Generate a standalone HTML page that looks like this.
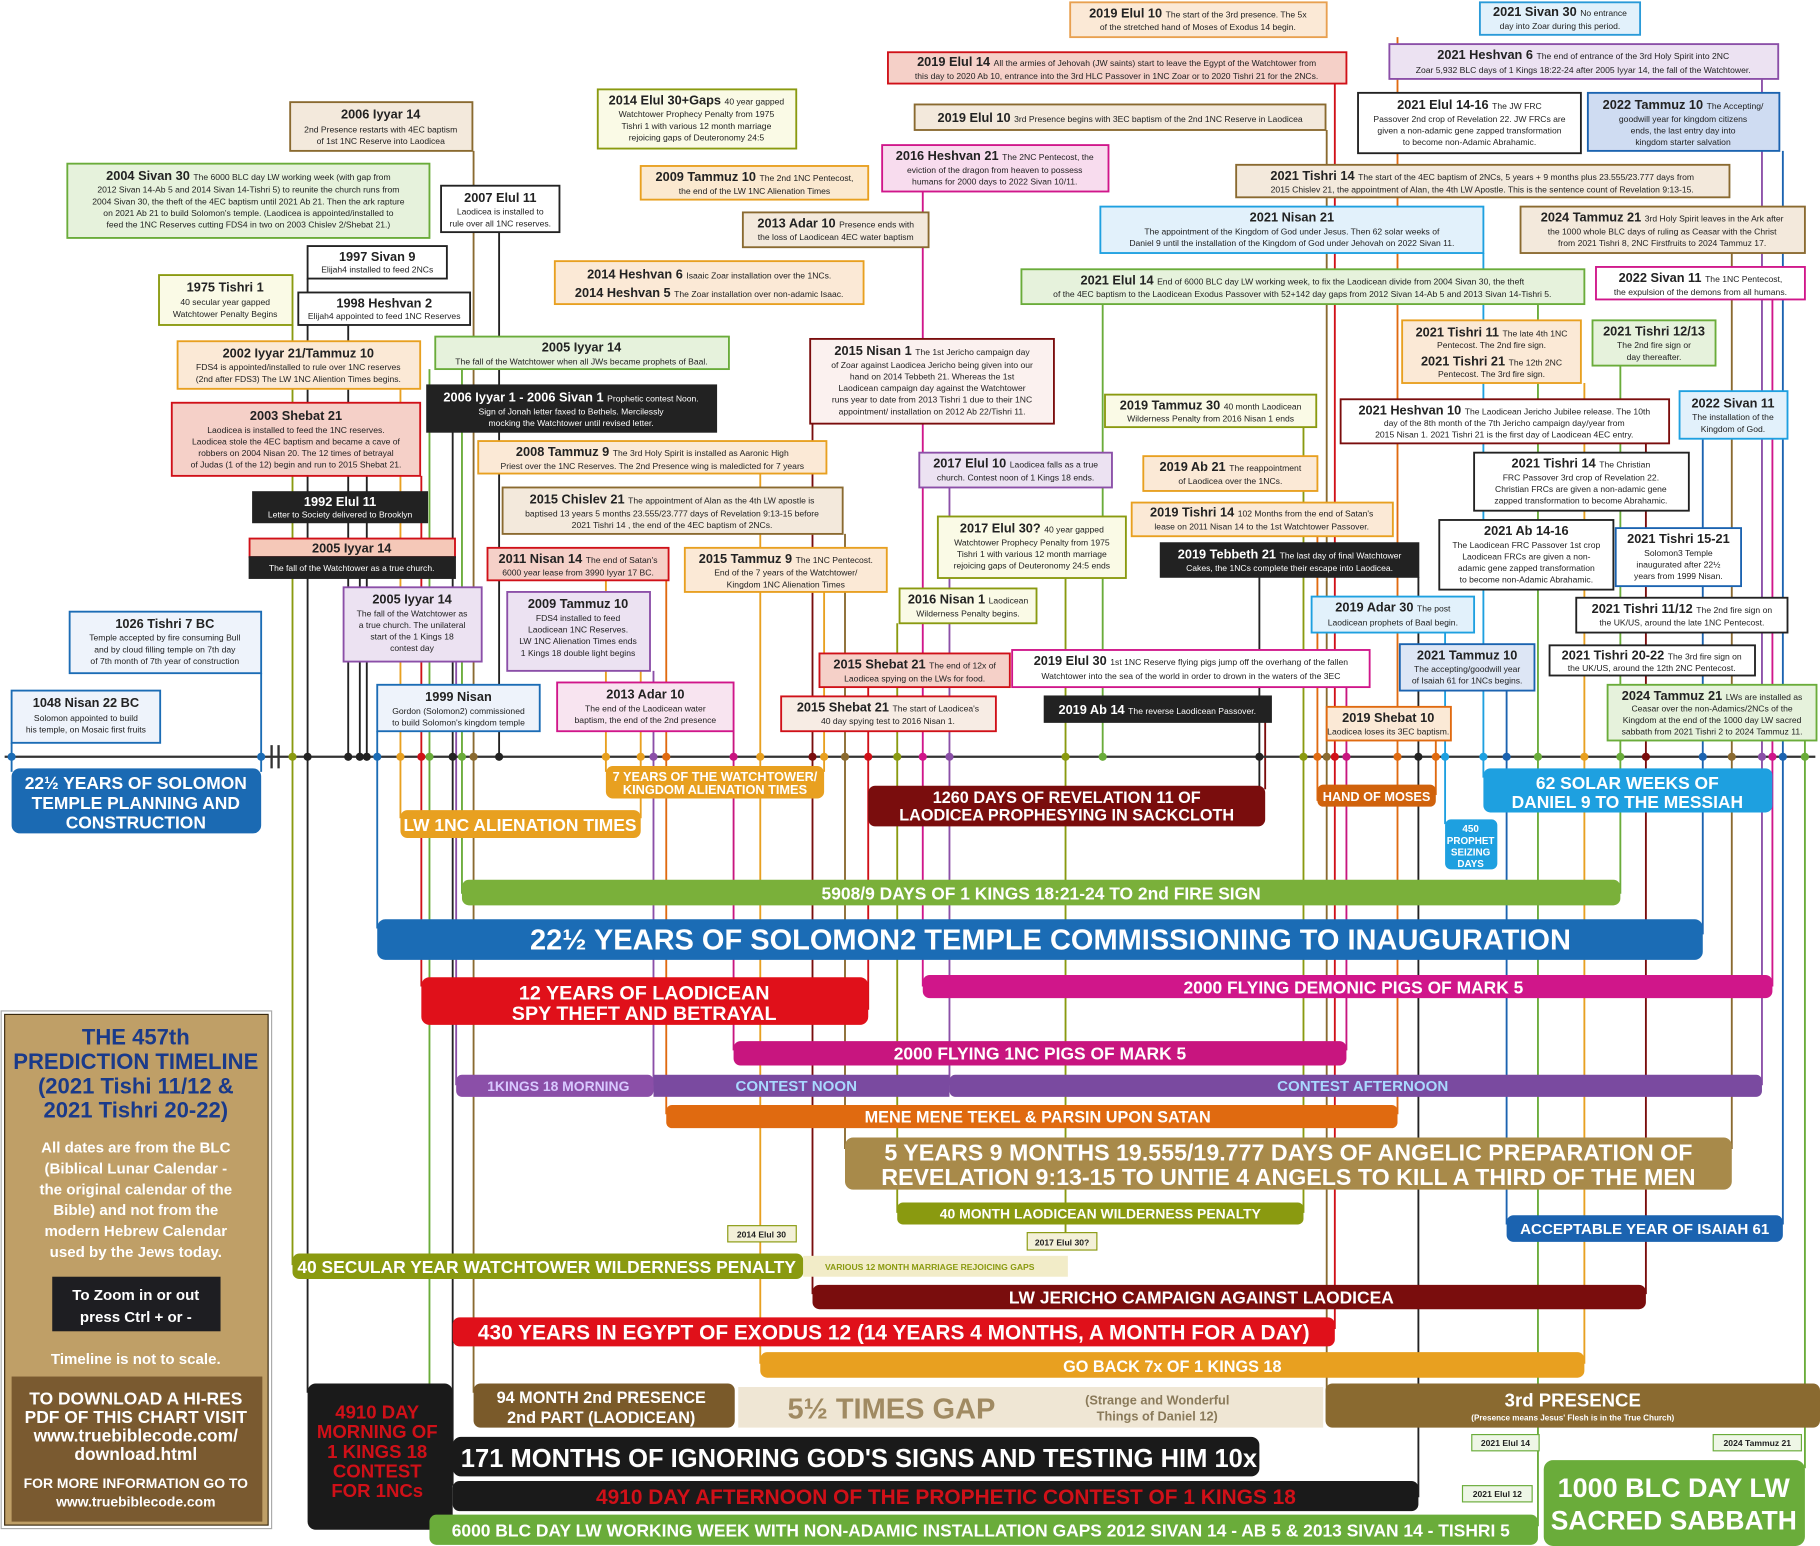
<!DOCTYPE html>
<html><head><meta charset="utf-8"><style>
html,body{margin:0;padding:0;background:#fff}
svg{display:block}
text{font-family:"Liberation Sans Narrow","Liberation Sans",sans-serif;text-anchor:middle;fill:#222}
.t{font-size:11px;font-weight:bold}
.s{font-size:7.4px;font-weight:normal}
.w{fill:#fff}
.b{font-weight:bold;fill:#fff;font-family:"Liberation Sans",sans-serif}
.box{stroke-width:1.6}
</style></head><body>
<svg width="1820" height="1546" viewBox="0 0 1568 1332" preserveAspectRatio="none" xmlns="http://www.w3.org/2000/svg">
<rect width="1568" height="1332" fill="#fff"/>
<g stroke-width="1.6" fill="none">
<line x1="252" y1="280" x2="252" y2="1090" stroke="#8a9a10"/>
<line x1="265" y1="240" x2="265" y2="1200" stroke="#222"/>
<line x1="300" y1="280" x2="300" y2="652" stroke="#222"/>
<line x1="310" y1="498" x2="310" y2="652" stroke="#222"/>
<line x1="316" y1="372" x2="316" y2="652" stroke="#222"/>
<line x1="325" y1="630" x2="325" y2="800" stroke="#1b6cb5"/>
<line x1="345" y1="335" x2="345" y2="705" stroke="#e8a020"/>
<line x1="363" y1="410" x2="363" y2="850" stroke="#d01018"/>
<line x1="370" y1="318" x2="370" y2="1312" stroke="#6aac3a"/>
<line x1="390" y1="372" x2="390" y2="1280" stroke="#222"/>
<line x1="393" y1="570" x2="393" y2="935" stroke="#8b4fa8"/>
<line x1="398" y1="318" x2="398" y2="770" stroke="#6aac3a"/>
<line x1="408" y1="130" x2="408" y2="1200" stroke="#8a6a30"/>
<line x1="430" y1="200" x2="430" y2="652" stroke="#222"/>
<line x1="522" y1="500" x2="522" y2="665" stroke="#e8a020"/>
<line x1="552" y1="578" x2="552" y2="705" stroke="#e8a020"/>
<line x1="563" y1="578" x2="563" y2="935" stroke="#8b4fa8"/>
<line x1="574" y1="500" x2="574" y2="960" stroke="#e06a10"/>
<line x1="632" y1="630" x2="632" y2="905" stroke="#c8157f"/>
<line x1="655" y1="408" x2="655" y2="1175" stroke="#e8a020"/>
<line x1="700" y1="365" x2="700" y2="1115" stroke="#7a0d0d"/>
<line x1="710" y1="510" x2="710" y2="665" stroke="#e8a020"/>
<line x1="728" y1="460" x2="728" y2="990" stroke="#8a6a30"/>
<line x1="748" y1="592" x2="748" y2="870" stroke="#d01018"/>
<line x1="773" y1="537" x2="773" y2="1045" stroke="#8a9a10"/>
<line x1="795" y1="165" x2="795" y2="850" stroke="#d0168a"/>
<line x1="818" y1="420" x2="818" y2="935" stroke="#8b4fa8"/>
<line x1="918" y1="498" x2="918" y2="1070" stroke="#8a9a10"/>
<line x1="950" y1="262" x2="950" y2="652" stroke="#6aac3a"/>
<line x1="1085" y1="497" x2="1085" y2="680" stroke="#222"/>
<line x1="1090" y1="622" x2="1090" y2="680" stroke="#7a0d0d"/>
<line x1="1123" y1="368" x2="1123" y2="1045" stroke="#8a9a10"/>
<line x1="1135" y1="462" x2="1135" y2="690" stroke="#e06a10"/>
<line x1="1143" y1="112" x2="1143" y2="1200" stroke="#8a6a30"/>
<line x1="1150" y1="72" x2="1150" y2="1145" stroke="#d01018"/>
<line x1="1160" y1="592" x2="1160" y2="905" stroke="#c8157f"/>
<line x1="1204" y1="32" x2="1204" y2="960" stroke="#e06a10"/>
<line x1="1222" y1="497" x2="1222" y2="1290" stroke="#222"/>
<line x1="1237" y1="638" x2="1237" y2="685" stroke="#e06a10"/>
<line x1="1245" y1="545" x2="1245" y2="710" stroke="#1ea0e0"/>
<line x1="1278" y1="218" x2="1278" y2="670" stroke="#1ea0e0"/>
<line x1="1298" y1="595" x2="1298" y2="1055" stroke="#1b63b0"/>
<line x1="1325" y1="262" x2="1325" y2="1315" stroke="#6aac3a"/>
<line x1="1365" y1="330" x2="1365" y2="1175" stroke="#e8a020"/>
<line x1="1396" y1="315" x2="1396" y2="770" stroke="#6aac3a"/>
<line x1="1418" y1="382" x2="1418" y2="1115" stroke="#7a0d0d"/>
<line x1="1467" y1="378" x2="1467" y2="805" stroke="#1b63b0"/>
<line x1="1492" y1="218" x2="1492" y2="990" stroke="#8a6a30"/>
<line x1="1518" y1="68" x2="1518" y2="935" stroke="#8b4fa8"/>
<line x1="1527" y1="258" x2="1527" y2="850" stroke="#d0168a"/>
<line x1="1536" y1="130" x2="1536" y2="1055" stroke="#1b63b0"/>
<line x1="1555" y1="638" x2="1555" y2="1265" stroke="#6aac3a"/>
<line x1="10" y1="640" x2="10" y2="665" stroke="#1b6cb5"/>
<line x1="225" y1="580" x2="225" y2="665" stroke="#1b6cb5"/>
</g>
<line x1="4" y1="652" x2="1564" y2="652" stroke="#333" stroke-width="2"/>
<line x1="234" y1="642" x2="234" y2="662" stroke="#333" stroke-width="2"/>
<line x1="240" y1="642" x2="240" y2="662" stroke="#333" stroke-width="2"/>
<g>
<circle cx="10" cy="652" r="3.5" fill="#1b6cb5"/><circle cx="225" cy="652" r="3.5" fill="#1b6cb5"/>
<circle cx="252" cy="652" r="3.5" fill="#8a9a10"/><circle cx="265" cy="652" r="3.5" fill="#222"/>
<circle cx="300" cy="652" r="3.5" fill="#222"/><circle cx="310" cy="652" r="3.5" fill="#222"/><circle cx="316" cy="652" r="3.5" fill="#222"/>
<circle cx="325" cy="652" r="3.5" fill="#1b6cb5"/><circle cx="345" cy="652" r="3.5" fill="#e8a020"/><circle cx="363" cy="652" r="3.5" fill="#d01018"/>
<circle cx="370" cy="652" r="3.5" fill="#6aac3a"/><circle cx="390" cy="652" r="3.5" fill="#222"/><circle cx="398" cy="652" r="3.5" fill="#6aac3a"/>
<circle cx="408" cy="652" r="3.5" fill="#8a6a30"/><circle cx="430" cy="652" r="3.5" fill="#222"/><circle cx="522" cy="652" r="3.5" fill="#e8a020"/>
<circle cx="552" cy="652" r="3.5" fill="#e8a020"/><circle cx="563" cy="652" r="3.5" fill="#8b4fa8"/><circle cx="574" cy="652" r="3.5" fill="#e06a10"/>
<circle cx="632" cy="652" r="3.5" fill="#c8157f"/><circle cx="655" cy="652" r="3.5" fill="#e8a020"/><circle cx="700" cy="652" r="3.5" fill="#7a0d0d"/>
<circle cx="710" cy="652" r="3.5" fill="#e8a020"/><circle cx="728" cy="652" r="3.5" fill="#8a6a30"/><circle cx="748" cy="652" r="3.5" fill="#d01018"/>
<circle cx="773" cy="652" r="3.5" fill="#8a9a10"/><circle cx="795" cy="652" r="3.5" fill="#d0168a"/><circle cx="818" cy="652" r="3.5" fill="#8b4fa8"/>
<circle cx="918" cy="652" r="3.5" fill="#8a9a10"/><circle cx="950" cy="652" r="3.5" fill="#6aac3a"/><circle cx="1085" cy="652" r="3.5" fill="#222"/>
<circle cx="1123" cy="652" r="3.5" fill="#8a9a10"/><circle cx="1135" cy="652" r="3.5" fill="#e06a10"/><circle cx="1143" cy="652" r="3.5" fill="#8a6a30"/>
<circle cx="1150" cy="652" r="3.5" fill="#d01018"/><circle cx="1160" cy="652" r="3.5" fill="#c8157f"/><circle cx="1204" cy="652" r="3.5" fill="#e06a10"/>
<circle cx="1222" cy="652" r="3.5" fill="#222"/><circle cx="1237" cy="652" r="3.5" fill="#e06a10"/><circle cx="1245" cy="652" r="3.5" fill="#1ea0e0"/>
<circle cx="1278" cy="652" r="3.5" fill="#1ea0e0"/><circle cx="1298" cy="652" r="3.5" fill="#1b63b0"/><circle cx="1325" cy="652" r="3.5" fill="#6aac3a"/>
<circle cx="1365" cy="652" r="3.5" fill="#e8a020"/><circle cx="1396" cy="652" r="3.5" fill="#6aac3a"/><circle cx="1418" cy="652" r="3.5" fill="#7a0d0d"/>
<circle cx="1467" cy="652" r="3.5" fill="#1b63b0"/><circle cx="1492" cy="652" r="3.5" fill="#8a6a30"/><circle cx="1518" cy="652" r="3.5" fill="#8b4fa8"/>
<circle cx="1527" cy="652" r="3.5" fill="#d0168a"/><circle cx="1536" cy="652" r="3.5" fill="#1b63b0"/><circle cx="1555" cy="652" r="3.5" fill="#6aac3a"/>
</g>

<g class="box">
<rect x="922" y="2" width="221" height="30" fill="#fbe9d6" stroke="#e8a050"/>
<text x="1032" y="15" class="t">2019 Elul 10 <tspan class="s">The start of the 3rd presence. The 5x</tspan></text><text x="1032" y="26" class="s">of the stretched hand of Moses of Exodus 14 begin.</text>

<rect x="1275" y="2" width="138" height="28" fill="#e2f1fb" stroke="#2a9ad8"/>
<text x="1344" y="14" class="t">2021 Sivan 30 <tspan class="s">No entrance</tspan></text><text x="1344" y="25" class="s">day into Zoar during this period.</text>

<rect x="765" y="45" width="395" height="27" fill="#f5d0c8" stroke="#d01018"/>
<text x="962" y="57" class="t">2019 Elul 14 <tspan class="s">All the armies of Jehovah (JW saints) start to leave the Egypt of the Watchtower from</tspan></text>
<text x="962" y="68" class="s">this day to 2020 Ab 10, entrance into the 3rd HLC Passover in 1NC Zoar or to 2020 Tishri 21 for the 2NCs.</text>

<rect x="1197" y="38" width="335" height="30" fill="#ece2f2" stroke="#8b4fa8"/>
<text x="1364" y="51" class="t">2021 Heshvan 6 <tspan class="s">The end of entrance of the 3rd Holy Spirit into 2NC</tspan></text>
<text x="1364" y="63" class="s">Zoar 5,932 BLC days of 1 Kings 18:22-24 after 2005 Iyyar 14, the fall of the Watchtower.</text>

<rect x="515" y="77" width="171" height="51" fill="#fafae6" stroke="#8a9a10"/>
<text x="600" y="90" class="t">2014 Elul 30+Gaps <tspan class="s">40 year gapped</tspan></text>
<text x="600" y="101" class="s">Watchtower Prophecy Penalty from 1975</text><text x="600" y="111" class="s">Tishri 1 with various 12 month marriage</text><text x="600" y="121" class="s">rejoicing gaps of Deuteronomy 24:5</text>

<rect x="788" y="90" width="354" height="22" fill="#f3e9dc" stroke="#8a6a30"/>
<text x="965" y="105" class="t">2019 Elul 10 <tspan class="s">3rd Presence begins with 3EC baptism of the 2nd 1NC Reserve in Laodicea</tspan></text>

<rect x="1170" y="80" width="192" height="52" fill="#fff" stroke="#222"/>
<text x="1266" y="94" class="t">2021 Elul 14-16 <tspan class="s">The JW FRC</tspan></text>
<text x="1266" y="105" class="s">Passover 2nd crop of Revelation 22. JW FRCs are</text><text x="1266" y="115" class="s">given a non-adamic gene zapped transformation</text><text x="1266" y="125" class="s">to become non-Adamic Abrahamic.</text>

<rect x="1368" y="80" width="165" height="50" fill="#cfdcf2" stroke="#1b63b0"/>
<text x="1450" y="94" class="t">2022 Tammuz 10 <tspan class="s">The Accepting/</tspan></text>
<text x="1450" y="105" class="s">goodwill year for kingdom citizens</text><text x="1450" y="115" class="s">ends, the last entry day into</text><text x="1450" y="125" class="s">kingdom starter salvation</text>

<rect x="250" y="88" width="157" height="42" fill="#f3e9dc" stroke="#8a6a30"/>
<text x="328" y="102" class="t">2006 Iyyar 14</text><text x="328" y="114" class="s">2nd Presence restarts with 4EC baptism</text><text x="328" y="124" class="s">of 1st 1NC Reserve into Laodicea</text>

<rect x="58" y="141" width="312" height="64" fill="#e6f2dc" stroke="#6aac3a"/>
<text x="214" y="155" class="t">2004 Sivan 30 <tspan class="s">The 6000 BLC day LW working week (with gap from</tspan></text>
<text x="214" y="166" class="s">2012 Sivan 14-Ab 5 and 2014 Sivan 14-Tishri 5) to reunite the church runs from</text>
<text x="214" y="176" class="s">2004 Sivan 30, the theft of the 4EC baptism until 2021 Ab 21. Then the ark rapture</text>
<text x="214" y="186" class="s">on 2021 Ab 21 to build Solomon's temple. (Laodicea is appointed/installed to</text>
<text x="214" y="196" class="s">feed the 1NC Reserves cutting FDS4 in two on 2003 Chislev 2/Shebat 21.)</text>

<rect x="380" y="160" width="102" height="40" fill="#fff" stroke="#222"/>
<text x="431" y="174" class="t">2007 Elul 11</text><text x="431" y="185" class="s">Laodicea is installed to</text><text x="431" y="195" class="s">rule over all 1NC reserves.</text>

<rect x="552" y="143" width="196" height="29" fill="#fbe9d0" stroke="#e8a020"/>
<text x="650" y="156" class="t">2009 Tammuz 10 <tspan class="s">The 2nd 1NC Pentecost,</tspan></text><text x="650" y="167" class="s">the end of the LW 1NC Alienation Times</text>

<rect x="760" y="125" width="195" height="40" fill="#f8dcee" stroke="#d0168a"/>
<text x="857" y="138" class="t">2016 Heshvan 21 <tspan class="s">The 2NC Pentecost, the</tspan></text>
<text x="857" y="149" class="s">eviction of the dragon from heaven to possess</text><text x="857" y="159" class="s">humans for 2000 days to 2022 Sivan 10/11.</text>

<rect x="1065" y="142" width="425" height="28" fill="#f3e9dc" stroke="#8a6a30"/>
<text x="1277" y="155" class="t">2021 Tishri 14 <tspan class="s">The start of the 4EC baptism of 2NCs, 5 years + 9 months plus 23.555/23.777 days from</tspan></text>
<text x="1277" y="166" class="s">2015 Chislev 21, the appointment of Alan, the 4th LW Apostle. This is the sentence count of Revelation 9:13-15.</text>

<rect x="640" y="183" width="160" height="30" fill="#f3e9dc" stroke="#8a6a30"/>
<text x="720" y="196" class="t">2013 Adar 10 <tspan class="s">Presence ends with</tspan></text><text x="720" y="207" class="s">the loss of Laodicean 4EC water baptism</text>

<rect x="948" y="178" width="330" height="40" fill="#e2f1fb" stroke="#1ea0e0"/>
<text x="1113" y="191" class="t">2021 Nisan 21</text>
<text x="1113" y="202" class="s">The appointment of the Kingdom of God under Jesus. Then 62 solar weeks of</text>
<text x="1113" y="212" class="s">Daniel 9 until the installation of the Kingdom of God under Jehovah on 2022 Sivan 11.</text>

<rect x="1310" y="178" width="245" height="40" fill="#f3e9dc" stroke="#8a6a30"/>
<text x="1432" y="191" class="t">2024 Tammuz 21 <tspan class="s">3rd Holy Spirit leaves in the Ark after</tspan></text>
<text x="1432" y="202" class="s">the 1000 whole BLC days of ruling as Ceasar with the Christ</text>
<text x="1432" y="212" class="s">from 2021 Tishri 8, 2NC Firstfruits to 2024 Tammuz 17.</text>

<rect x="265" y="212" width="120" height="28" fill="#fff" stroke="#222"/>
<text x="325" y="225" class="t">1997 Sivan 9</text><text x="325" y="235" class="s">Elijah4 installed to feed 2NCs</text>

<rect x="478" y="225" width="266" height="37" fill="#fbe9d6" stroke="#e8a020"/>
<text x="611" y="240" class="t">2014 Heshvan 6 <tspan class="s">Isaaic Zoar installation over the 1NCs.</tspan></text>
<text x="611" y="256" class="t">2014 Heshvan 5 <tspan class="s">The Zoar installation over non-adamic Isaac.</tspan></text>

<rect x="880" y="232" width="485" height="30" fill="#e6f2dc" stroke="#6aac3a"/>
<text x="1122" y="245" class="t">2021 Elul 14 <tspan class="s">End of 6000 BLC day LW working week, to fix the Laodicean divide from 2004 Sivan 30, the theft</tspan></text>
<text x="1122" y="256" class="s">of the 4EC baptism to the Laodicean Exodus Passover with 52+142 day gaps from 2012 Sivan 14-Ab 5 and 2013 Sivan 14-Tishri 5.</text>

<rect x="1375" y="230" width="180" height="28" fill="#fff" stroke="#d0168a"/>
<text x="1465" y="243" class="t">2022 Sivan 11 <tspan class="s">The 1NC Pentecost,</tspan></text><text x="1465" y="254" class="s">the expulsion of the demons from all humans.</text>

<rect x="137" y="237" width="115" height="43" fill="#fafae6" stroke="#8a9a10"/>
<text x="194" y="251" class="t">1975 Tishri 1</text><text x="194" y="263" class="s">40 secular year gapped</text><text x="194" y="273" class="s">Watchtower Penalty Begins</text>

<rect x="257" y="252" width="148" height="28" fill="#fff" stroke="#222"/>
<text x="331" y="265" class="t">1998 Heshvan 2</text><text x="331" y="275" class="s">Elijah4 appointed to feed 1NC Reserves</text>

<rect x="1208" y="276" width="154" height="54" fill="#fbe9d6" stroke="#e8a020"/>
<text x="1285" y="290" class="t">2021 Tishri 11 <tspan class="s">The late 4th 1NC</tspan></text><text x="1285" y="300" class="s">Pentecost. The 2nd fire sign.</text>
<text x="1285" y="315" class="t">2021 Tishri 21 <tspan class="s">The 12th 2NC</tspan></text><text x="1285" y="325" class="s">Pentecost. The 3rd fire sign.</text>

<rect x="1372" y="276" width="106" height="39" fill="#e6f2dc" stroke="#6aac3a"/>
<text x="1425" y="289" class="t">2021 Tishri 12/13</text><text x="1425" y="300" class="s">The 2nd fire sign or</text><text x="1425" y="310" class="s">day thereafter.</text>

<rect x="375" y="290" width="253" height="28" fill="#e6f2dc" stroke="#6aac3a"/>
<text x="501" y="303" class="t">2005 Iyyar 14</text><text x="501" y="314" class="s">The fall of the Watchtower when all JWs became prophets of Baal.</text>

<rect x="153" y="294" width="209" height="41" fill="#fbe9d6" stroke="#e8a020"/>
<text x="257" y="308" class="t">2002 Iyyar 21/Tammuz 10</text><text x="257" y="319" class="s">FDS4 is appointed/installed to rule over 1NC reserves</text><text x="257" y="329" class="s">(2nd after FDS3) The LW 1NC Aliention Times begins.</text>

<rect x="698" y="292" width="210" height="73" fill="#fbf1ef" stroke="#7a0d0d"/>
<text x="803" y="306" class="t">2015 Nisan 1 <tspan class="s">The 1st Jericho campaign day</tspan></text>
<text x="803" y="317" class="s">of Zoar against Laodicea Jericho being given into our</text>
<text x="803" y="327" class="s">hand on 2014 Tebbeth 21. Whereas the 1st</text>
<text x="803" y="337" class="s">Laodicean campaign day against the Watchtower</text>
<text x="803" y="347" class="s">runs year to date from 2013 Tishri 1 due to their 1NC</text>
<text x="803" y="357" class="s">appointment/ installation on 2012 Ab 22/Tishri 11.</text>

<rect x="368" y="332" width="249" height="40" fill="#222" stroke="#222"/>
<text x="492" y="346" class="t w">2006 Iyyar 1 - 2006 Sivan 1 <tspan class="s w">Prophetic contest Noon.</tspan></text>
<text x="492" y="357" class="s w">Sign of Jonah letter faxed to Bethels. Mercilessly</text><text x="492" y="367" class="s w">mocking the Watchtower until revised letter.</text>

<rect x="952" y="340" width="182" height="28" fill="#fafae6" stroke="#8a9a10"/>
<text x="1043" y="353" class="t">2019 Tammuz 30 <tspan class="s">40 month Laodicean</tspan></text><text x="1043" y="363" class="s">Wilderness Penalty from 2016 Nisan 1 ends</text>

<rect x="1155" y="344" width="283" height="38" fill="#fff" stroke="#7a0d0d"/>
<text x="1296" y="357" class="t">2021 Heshvan 10 <tspan class="s">The Laodicean Jericho Jubilee release. The 10th</tspan></text>
<text x="1296" y="367" class="s">day of the 8th month of the 7th Jericho campaign day/year from</text>
<text x="1296" y="377" class="s">2015 Nisan 1. 2021 Tishri 21 is the first day of Laodicean 4EC entry.</text>

<rect x="1447" y="337" width="93" height="41" fill="#e2f1fb" stroke="#1ea0e0"/>
<text x="1493" y="351" class="t">2022 Sivan 11</text><text x="1493" y="362" class="s">The installation of the</text><text x="1493" y="372" class="s">Kingdom of God.</text>

<rect x="148" y="347" width="214" height="63" fill="#f5d0c8" stroke="#d01018"/>
<text x="255" y="362" class="t">2003 Shebat 21</text>
<text x="255" y="373" class="s">Laodicea is installed to feed the 1NC reserves.</text>
<text x="255" y="383" class="s">Laodicea stole the 4EC baptism and became a cave of</text>
<text x="255" y="393" class="s">robbers on 2004 Nisan 20. The 12 times of betrayal</text>
<text x="255" y="403" class="s">of Judas (1 of the 12) begin and run to 2015 Shebat 21.</text>

<rect x="412" y="380" width="300" height="28" fill="#fbe9d6" stroke="#e8a020"/>
<text x="562" y="393" class="t">2008 Tammuz 9 <tspan class="s">The 3rd Holy Spirit is installed as Aaronic High</tspan></text>
<text x="562" y="404" class="s">Priest over the 1NC Reserves. The 2nd Presence wing is maledicted for 7 years</text>

<rect x="792" y="390" width="166" height="30" fill="#ece2f2" stroke="#8b4fa8"/>
<text x="875" y="403" class="t">2017 Elul 10 <tspan class="s">Laodicea falls as a true</tspan></text><text x="875" y="414" class="s">church. Contest noon of 1 Kings 18 ends.</text>

<rect x="985" y="393" width="150" height="30" fill="#fbe9d6" stroke="#e8a020"/>
<text x="1060" y="406" class="t">2019 Ab 21 <tspan class="s">The reappointment</tspan></text><text x="1060" y="417" class="s">of Laodicea over the 1NCs.</text>

<rect x="1270" y="390" width="185" height="50" fill="#fff" stroke="#222"/>
<text x="1362" y="403" class="t">2021 Tishri 14 <tspan class="s">The Christian</tspan></text>
<text x="1362" y="414" class="s">FRC Passover 3rd crop of Revelation 22.</text>
<text x="1362" y="424" class="s">Christian FRCs are given a non-adamic gene</text>
<text x="1362" y="434" class="s">zapped transformation to become Abrahamic.</text>

<rect x="218" y="424" width="150" height="26" fill="#222" stroke="#222"/>
<text x="293" y="436" class="t w">1992 Elul 11</text><text x="293" y="446" class="s w">Letter to Society delivered to Brooklyn</text>

<rect x="433" y="420" width="293" height="40" fill="#f3e9dc" stroke="#8a6a30"/>
<text x="579" y="434" class="t">2015 Chislev 21 <tspan class="s">The appointment of Alan as the 4th LW apostle is</tspan></text>
<text x="579" y="445" class="s">baptised 13 years 5 months 23.555/23.777 days of Revelation 9:13-15 before</text>
<text x="579" y="455" class="s">2021 Tishri 14 , the end of the 4EC baptism of 2NCs.</text>

<rect x="975" y="433" width="225" height="29" fill="#fbe9d6" stroke="#e8a020"/>
<text x="1087" y="445" class="t">2019 Tishri 14 <tspan class="s">102 Months from the end of Satan's</tspan></text>
<text x="1087" y="456" class="s">lease on 2011 Nisan 14 to the 1st Watchtower Passover.</text>

<rect x="808" y="445" width="162" height="53" fill="#fafae6" stroke="#8a9a10"/>
<text x="889" y="459" class="t">2017 Elul 30? <tspan class="s">40 year gapped</tspan></text>
<text x="889" y="470" class="s">Watchtower Prophecy Penalty from 1975</text><text x="889" y="480" class="s">Tishri 1 with various 12 month marriage</text><text x="889" y="490" class="s">rejoicing gaps of Deuteronomy 24:5 ends</text>

<rect x="1240" y="448" width="150" height="60" fill="#fff" stroke="#222"/>
<text x="1315" y="461" class="t">2021 Ab 14-16</text>
<text x="1315" y="472" class="s">The Laodicean FRC Passover 1st crop</text><text x="1315" y="482" class="s">Laodicean FRCs are given a non-</text>
<text x="1315" y="492" class="s">adamic gene zapped transformation</text><text x="1315" y="502" class="s">to become non-Adamic Abrahamic.</text>

<rect x="1392" y="455" width="108" height="50" fill="#fff" stroke="#1b63b0"/>
<text x="1446" y="468" class="t">2021 Tishri 15-21</text><text x="1446" y="479" class="s">Solomon3 Temple</text><text x="1446" y="489" class="s">inaugurated after 22½</text><text x="1446" y="499" class="s">years from 1999 Nisan.</text>

<rect x="215" y="464" width="177" height="16" fill="#f5c8b8" stroke="#d01018"/>
<rect x="215" y="480" width="177" height="18" fill="#222" stroke="#222"/>
<text x="303" y="476" class="t">2005 Iyyar 14</text><text x="303" y="492" class="s w">The fall of the Watchtower as a true church.</text>

<rect x="420" y="472" width="156" height="28" fill="#f5d0c8" stroke="#d01018"/>
<text x="498" y="485" class="t">2011 Nisan 14 <tspan class="s">The end of Satan's</tspan></text><text x="498" y="496" class="s">6000 year lease from 3990 Iyyar 17 BC.</text>

<rect x="590" y="472" width="174" height="38" fill="#fbe9d6" stroke="#e8a020"/>
<text x="677" y="485" class="t">2015 Tammuz 9 <tspan class="s">The 1NC Pentecost.</tspan></text>
<text x="677" y="496" class="s">End of the 7 years of the Watchtower/</text><text x="677" y="506" class="s">Kingdom 1NC Alienation Times</text>

<rect x="1000" y="468" width="222" height="29" fill="#222" stroke="#222"/>
<text x="1111" y="481" class="t w">2019 Tebbeth 21 <tspan class="s w">The last day of final Watchtower</tspan></text>
<text x="1111" y="492" class="s w">Cakes, the 1NCs complete their escape into Laodicea.</text>

<rect x="296" y="506" width="119" height="64" fill="#ece2f2" stroke="#8b4fa8"/>
<text x="355" y="520" class="t">2005 Iyyar 14</text><text x="355" y="531" class="s">The fall of the Watchtower as</text>
<text x="355" y="541" class="s">a true church. The unilateral</text><text x="355" y="551" class="s">start of the 1 Kings 18</text><text x="355" y="561" class="s">contest day</text>

<rect x="437" y="510" width="123" height="68" fill="#ece2f2" stroke="#8b4fa8"/>
<text x="498" y="524" class="t">2009 Tammuz 10</text><text x="498" y="535" class="s">FDS4 installed to feed</text>
<text x="498" y="545" class="s">Laodicean 1NC Reserves.</text><text x="498" y="555" class="s">LW 1NC Alienation Times ends</text><text x="498" y="565" class="s">1 Kings 18 double light begins</text>

<rect x="775" y="507" width="118" height="30" fill="#fafae6" stroke="#8a9a10"/>
<text x="834" y="520" class="t">2016 Nisan 1 <tspan class="s">Laodicean</tspan></text><text x="834" y="531" class="s">Wilderness Penalty begins.</text>

<rect x="1130" y="514" width="140" height="31" fill="#e2f1fb" stroke="#1ea0e0"/>
<text x="1200" y="527" class="t">2019 Adar 30 <tspan class="s">The post</tspan></text><text x="1200" y="539" class="s">Laodicean prophets of Baal begin.</text>

<rect x="1358" y="515" width="182" height="30" fill="#fff" stroke="#222"/>
<text x="1449" y="528" class="t">2021 Tishri 11/12 <tspan class="s">The 2nd fire sign on</tspan></text><text x="1449" y="539" class="s">the UK/US, around the late 1NC Pentecost.</text>

<rect x="60" y="527" width="165" height="53" fill="#eef3fb" stroke="#1b6cb5"/>
<text x="142" y="541" class="t">1026 Tishri 7 BC</text><text x="142" y="552" class="s">Temple accepted by fire consuming Bull</text>
<text x="142" y="562" class="s">and by cloud filling temple on 7th day</text><text x="142" y="572" class="s">of 7th month of 7th year of construction</text>

<rect x="706" y="563" width="164" height="29" fill="#f5d0c8" stroke="#d01018"/>
<text x="788" y="576" class="t">2015 Shebat 21 <tspan class="s">The end of 12x of</tspan></text><text x="788" y="587" class="s">Laodicea spying on the LWs for food.</text>

<rect x="872" y="560" width="308" height="32" fill="#fff" stroke="#d0168a"/>
<text x="1026" y="573" class="t">2019 Elul 30 <tspan class="s">1st 1NC Reserve flying pigs jump off the overhang of the fallen</tspan></text>
<text x="1026" y="585" class="s">Watchtower into the sea of the world in order to drown in the waters of the 3EC</text>

<rect x="1206" y="555" width="116" height="40" fill="#dde6f5" stroke="#1b63b0"/>
<text x="1264" y="568" class="t">2021 Tammuz 10</text><text x="1264" y="579" class="s">The accepting/goodwill year</text><text x="1264" y="589" class="s">of Isaiah 61 for 1NCs begins.</text>

<rect x="1335" y="556" width="177" height="26" fill="#fff" stroke="#222"/>
<text x="1423" y="568" class="t">2021 Tishri 20-22 <tspan class="s">The 3rd fire sign on</tspan></text><text x="1423" y="578" class="s">the UK/US, around the 12th 2NC Pentecost.</text>

<rect x="480" y="588" width="152" height="42" fill="#f8e4f0" stroke="#d0168a"/>
<text x="556" y="602" class="t">2013 Adar 10</text><text x="556" y="613" class="s">The end of the Laodicean water</text><text x="556" y="623" class="s">baptism, the end of the 2nd presence</text>

<rect x="10" y="595" width="128" height="45" fill="#eef3fb" stroke="#1b6cb5"/>
<text x="74" y="609" class="t">1048 Nisan 22 BC</text><text x="74" y="621" class="s">Solomon appointed to build</text><text x="74" y="631" class="s">his temple, on Mosaic first fruits</text>

<rect x="325" y="590" width="140" height="40" fill="#eef3fb" stroke="#1b6cb5"/>
<text x="395" y="604" class="t">1999 Nisan</text><text x="395" y="615" class="s">Gordon (Solomon2) commissioned</text><text x="395" y="625" class="s">to build Solomon's kingdom temple</text>

<rect x="673" y="600" width="185" height="30" fill="#f7ece4" stroke="#d01018"/>
<text x="765" y="613" class="t">2015 Shebat 21 <tspan class="s">The start of Laodicea's</tspan></text><text x="765" y="624" class="s">40 day spying test to 2016 Nisan 1.</text>

<rect x="900" y="600" width="195" height="22" fill="#222" stroke="#222"/>
<text x="997" y="615" class="t w">2019 Ab 14 <tspan class="s w">The reverse Laodicean Passover.</tspan></text>

<rect x="1143" y="609" width="107" height="29" fill="#fbe9d6" stroke="#e06a10"/>
<text x="1196" y="622" class="t">2019 Shebat 10</text><text x="1196" y="633" class="s">Laodicea loses its 3EC baptism.</text>

<rect x="1385" y="590" width="180" height="48" fill="#e6f2dc" stroke="#6aac3a"/>
<text x="1475" y="603" class="t">2024 Tammuz 21 <tspan class="s">LWs are installed as</tspan></text>
<text x="1475" y="613" class="s">Ceasar over the non-Adamics/2NCs of the</text><text x="1475" y="623" class="s">Kingdom at the end of the 1000 day LW sacred</text><text x="1475" y="633" class="s">sabbath from 2021 Tishri 2 to 2024 Tammuz 11.</text>
</g>

<g>
<rect x="10" y="662" width="215" height="56" rx="7" fill="#1b6ab3"/>
<text x="117" y="680" class="b" font-size="15">22½ YEARS OF SOLOMON</text><text x="117" y="697" class="b" font-size="15">TEMPLE PLANNING AND</text><text x="117" y="714" class="b" font-size="15">CONSTRUCTION</text>

<rect x="522" y="660" width="188" height="28" rx="6" fill="#e8a020"/>
<text x="616" y="673" class="b" font-size="11">7 YEARS OF THE WATCHTOWER/</text><text x="616" y="684" class="b" font-size="11">KINGDOM ALIENATION TIMES</text>

<rect x="345" y="698" width="207" height="24" rx="6" fill="#e8a020"/>
<text x="448" y="716" class="b" font-size="15">LW 1NC ALIENATION TIMES</text>

<rect x="748" y="677" width="342" height="35" rx="6" fill="#7a0d0d"/>
<text x="919" y="692" class="b" font-size="14">1260 DAYS OF REVELATION 11 OF</text><text x="919" y="707" class="b" font-size="14">LAODICEA PROPHESYING IN SACKCLOTH</text>

<rect x="1135" y="676" width="102" height="19" rx="5" fill="#d0620c"/>
<text x="1186" y="690" class="b" font-size="11">HAND OF MOSES</text>

<rect x="1245" y="706" width="45" height="43" rx="5" fill="#1ea0e0"/>
<text x="1267" y="717" class="b" font-size="8.5">450</text><text x="1267" y="727" class="b" font-size="8.5">PROPHET</text><text x="1267" y="737" class="b" font-size="8.5">SEIZING</text><text x="1267" y="747" class="b" font-size="8.5">DAYS</text>

<rect x="1278" y="662" width="249" height="38" rx="6" fill="#1ea0e0"/>
<text x="1402" y="680" class="b" font-size="15">62 SOLAR WEEKS OF</text><text x="1402" y="696" class="b" font-size="15">DANIEL 9 TO THE MESSIAH</text>

<rect x="398" y="758" width="998" height="22" rx="6" fill="#7ab03a"/>
<text x="897" y="775" class="b" font-size="15">5908/9 DAYS OF 1 KINGS 18:21-24 TO 2nd FIRE SIGN</text>

<rect x="325" y="792" width="1142" height="35" rx="7" fill="#1b6cb5"/>
<text x="905" y="818" class="b" font-size="25">22½ YEARS OF SOLOMON2 TEMPLE COMMISSIONING TO INAUGURATION</text>

<rect x="795" y="840" width="732" height="20" rx="6" fill="#d0168a"/>
<text x="1166" y="856" class="b" font-size="15">2000 FLYING DEMONIC PIGS OF MARK 5</text>

<rect x="363" y="842" width="385" height="41" rx="7" fill="#e0101a"/>
<text x="555" y="861" class="b" font-size="17">12 YEARS OF LAODICEAN</text><text x="555" y="879" class="b" font-size="17">SPY THEFT AND BETRAYAL</text>

<rect x="632" y="897" width="528" height="21" rx="6" fill="#c8157f"/>
<text x="896" y="913" class="b" font-size="15">2000 FLYING 1NC PIGS OF MARK 5</text>

<rect x="393" y="926" width="170" height="19" rx="5" fill="#8b4fa8"/>
<text x="481" y="940" class="b" font-size="12" style="fill:#d8c8ff">1KINGS 18 MORNING</text>
<rect x="563" y="926" width="255" height="19" fill="#7a4aa0"/>
<text x="686" y="940" class="b" font-size="13" style="fill:#a9d8ff">CONTEST NOON</text>
<rect x="818" y="926" width="700" height="19" rx="5" fill="#7a4aa0"/>
<text x="1174" y="940" class="b" font-size="13" style="fill:#a9d8ff">CONTEST AFTERNOON</text>

<rect x="574" y="952" width="630" height="20" rx="5" fill="#e06a10"/>
<text x="894" y="967" class="b" font-size="14">MENE MENE TEKEL &amp; PARSIN UPON SATAN</text>

<rect x="728" y="980" width="764" height="45" rx="7" fill="#a88a4a"/>
<text x="1110" y="1000" class="b" font-size="20">5 YEARS 9 MONTHS 19.555/19.777 DAYS  OF ANGELIC PREPARATION OF</text>
<text x="1110" y="1021" class="b" font-size="20">REVELATION 9:13-15 TO UNTIE 4 ANGELS TO KILL A THIRD OF THE MEN</text>

<rect x="773" y="1036" width="350" height="19" rx="5" fill="#8a9a10"/>
<text x="948" y="1050" class="b" font-size="12">40 MONTH LAODICEAN WILDERNESS PENALTY</text>

<rect x="1298" y="1047" width="238" height="23" rx="6" fill="#1b63b0"/>
<text x="1417" y="1063" class="b" font-size="13">ACCEPTABLE YEAR OF ISAIAH 61</text>

<rect x="627" y="1056" width="59" height="14" fill="#f3f0d8" stroke="#8a9a10"/>
<text x="656" y="1066" class="s" style="font-weight:bold">2014 Elul 30</text>
<rect x="885" y="1062" width="60" height="15" fill="#f3f0d8" stroke="#8a9a10"/>
<text x="915" y="1073" class="s" style="font-weight:bold">2017 Elul 30?</text>

<rect x="252" y="1080" width="440" height="22" rx="6" fill="#8a9a10"/>
<text x="471" y="1097" class="b" font-size="15">40 SECULAR YEAR WATCHTOWER WILDERNESS PENALTY</text>
<rect x="692" y="1082" width="228" height="18" fill="#f2ecc8"/>
<text x="801" y="1094" class="s" style="font-weight:bold;fill:#8a9a10">VARIOUS 12 MONTH MARRIAGE REJOICING GAPS</text>

<rect x="700" y="1107" width="718" height="21" rx="6" fill="#7a0d0d"/>
<text x="1035" y="1123" class="b" font-size="15">LW JERICHO CAMPAIGN AGAINST LAODICEA</text>

<rect x="390" y="1135" width="760" height="25" rx="6" fill="#e0101a"/>
<text x="770" y="1154" class="b" font-size="18">430 YEARS IN EGYPT OF EXODUS 12 (14 YEARS 4 MONTHS, A MONTH FOR A DAY)</text>

<rect x="655" y="1165" width="710" height="22" rx="6" fill="#e8a020"/>
<text x="1010" y="1182" class="b" font-size="14">GO BACK 7x OF 1 KINGS 18</text>

<rect x="408" y="1192" width="225" height="38" rx="6" fill="#7a5a2a"/>
<text x="518" y="1209" class="b" font-size="14">94 MONTH 2nd PRESENCE</text><text x="518" y="1226" class="b" font-size="14">2nd PART (LAODICEAN)</text>
<rect x="636" y="1195" width="504" height="35" fill="#efe6d4"/>
<text x="768" y="1222" class="b" font-size="25" style="fill:#a08a62">5½ TIMES GAP</text>
<text x="997" y="1210" class="b" font-size="11" style="fill:#8a7a5a">(Strange and Wonderful</text><text x="997" y="1224" class="b" font-size="11" style="fill:#8a7a5a">Things of Daniel 12)</text>
<rect x="1142" y="1192" width="426" height="38" rx="6" fill="#8a6a30"/>
<text x="1355" y="1212" class="b" font-size="16">3rd PRESENCE</text>
<text x="1355" y="1224" class="b" font-size="7">(Presence means Jesus' Flesh is in the True Church)</text>

<rect x="265" y="1192" width="125" height="126" rx="7" fill="#1a1a1a"/>
<text x="325" y="1222" class="b" font-size="16" style="fill:#d01018">4910 DAY</text>
<text x="325" y="1239" class="b" font-size="16" style="fill:#d01018">MORNING OF</text>
<text x="325" y="1256" class="b" font-size="16" style="fill:#d01018">1 KINGS 18</text>
<text x="325" y="1273" class="b" font-size="16" style="fill:#d01018">CONTEST</text>
<text x="325" y="1290" class="b" font-size="16" style="fill:#d01018">FOR 1NCs</text>

<rect x="390" y="1238" width="695" height="34" rx="7" fill="#1a1a1a"/>
<text x="740" y="1264" class="b" font-size="22">171 MONTHS OF IGNORING GOD'S SIGNS AND TESTING HIM 10x</text>

<rect x="390" y="1276" width="832" height="26" rx="6" fill="#1a1a1a"/>
<text x="815" y="1296" class="b" font-size="18" style="fill:#d01018">4910 DAY AFTERNOON OF THE PROPHETIC CONTEST OF 1 KINGS 18</text>

<rect x="370" y="1305" width="955" height="26" rx="6" fill="#6aac3a"/>
<text x="845" y="1324" class="b" font-size="15">6000 BLC DAY LW WORKING WEEK WITH NON-ADAMIC INSTALLATION GAPS 2012 SIVAN 14 - AB 5 &amp; 2013 SIVAN 14 - TISHRI 5</text>

<rect x="1330" y="1258" width="225" height="74" rx="8" fill="#6aac3a"/>
<text x="1442" y="1290" class="b" font-size="23" textLength="200" lengthAdjust="spacingAndGlyphs">1000 BLC DAY LW</text>
<text x="1442" y="1318" class="b" font-size="23" textLength="212" lengthAdjust="spacingAndGlyphs">SACRED SABBATH</text>

<rect x="1268" y="1236" width="58" height="14" fill="#eef6e6" stroke="#6aac3a"/>
<text x="1297" y="1246" class="s" style="font-weight:bold">2021 Elul 14</text>
<rect x="1476" y="1236" width="76" height="14" fill="#eef6e6" stroke="#6aac3a"/>
<text x="1514" y="1246" class="s" style="font-weight:bold">2024 Tammuz 21</text>
<rect x="1260" y="1280" width="60" height="14" fill="#eef6e6" stroke="#6aac3a"/>
<text x="1290" y="1290" class="s" style="font-weight:bold">2021 Elul 12</text>
</g>

<rect x="1" y="871" width="233" height="446" fill="#fff" stroke="#aaa"/>
<rect x="4" y="874" width="227" height="440" fill="#bf9f67" stroke="#3a2a10"/>
<text x="117" y="900" class="b" font-size="19" style="fill:#1a3a8a">THE 457th</text>
<text x="117" y="921" class="b" font-size="19" style="fill:#1a3a8a">PREDICTION TIMELINE</text>
<text x="117" y="942" class="b" font-size="19" style="fill:#1a3a8a">(2021 Tishi 11/12 &amp;</text>
<text x="117" y="963" class="b" font-size="19" style="fill:#1a3a8a">2021 Tishri 20-22)</text>
<text x="117" y="993" class="b" font-size="13">All dates are from the BLC</text>
<text x="117" y="1011" class="b" font-size="13">(Biblical Lunar Calendar -</text>
<text x="117" y="1029" class="b" font-size="13">the original calendar of the</text>
<text x="117" y="1047" class="b" font-size="13">Bible) and not from the</text>
<text x="117" y="1065" class="b" font-size="13">modern Hebrew Calendar</text>
<text x="117" y="1083" class="b" font-size="13">used by the Jews today.</text>
<rect x="45" y="1100" width="145" height="47" fill="#1e1e22"/>
<text x="117" y="1120" class="b" font-size="13">To Zoom in or out</text>
<text x="117" y="1139" class="b" font-size="13">press Ctrl + or -</text>
<text x="117" y="1175" class="b" font-size="13">Timeline is not to scale.</text>
<rect x="10" y="1186" width="216" height="125" fill="#7a5a30"/>
<text x="117" y="1210" class="b" font-size="15">TO DOWNLOAD A HI-RES</text>
<text x="117" y="1226" class="b" font-size="15">PDF OF THIS CHART VISIT</text>
<text x="117" y="1242" class="b" font-size="15">www.truebiblecode.com/</text>
<text x="117" y="1258" class="b" font-size="15">download.html</text>
<text x="117" y="1282" class="b" font-size="12">FOR MORE INFORMATION GO TO</text>
<text x="117" y="1298" class="b" font-size="12">www.truebiblecode.com</text>
</svg>
</body></html>
